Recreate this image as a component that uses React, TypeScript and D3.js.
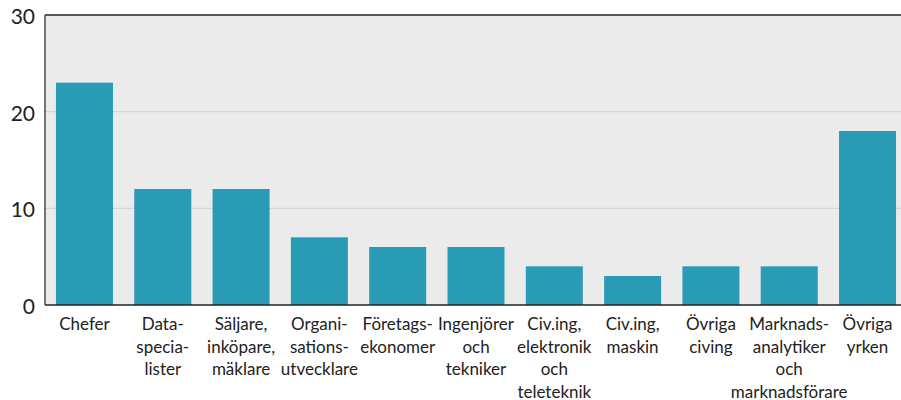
import React from "react";
import * as d3 from "d3";

const categories: string[][] = [
  ["Chefer"],
  ["Data-", "specia-", "lister"],
  ["Säljare,", "inköpare,", "mäklare"],
  ["Organi-", "sations-", "utvecklare"],
  ["Företags-", "ekonomer"],
  ["Ingenjörer", "och", "tekniker"],
  ["Civ.ing,", "elektronik", "och", "teleteknik"],
  ["Civ.ing,", "maskin"],
  ["Övriga", "civing"],
  ["Marknads-", "analytiker", "och", "marknadsförare"],
  ["Övriga", "yrken"],
];
const values: number[] = [23, 12, 12, 7, 6, 6, 4, 3, 4, 4, 18];
const yTicks: number[] = [0, 10, 20, 30];

const W = 901;
const H = 400;
const left = 45;
const top = 15;
const bottom = 305;

export default function App() {
  const keys = categories.map((_, i) => String(i));
  const x = d3
    .scaleBand<string>()
    .domain(keys)
    .range([left, 907])
    .paddingInner(0.272)
    .paddingOuter(0.14);
  const y = d3.scaleLinear().domain([0, 30]).range([bottom, top]);
  const font = "Lato, 'Open Sans', sans-serif";
  return (
    <svg
      width={W}
      height={H}
      style={{ position: "absolute", left: 0, top: 0, background: "#fff" }}
    >
      <rect x={left} y={top} width={W - left} height={bottom - top} fill="#ebebeb" />
      {yTicks
        .filter((t) => t > 0 && t < 30)
        .map((t) => (
          <line key={t} x1={left} x2={W} y1={y(t)} y2={y(t)} stroke="#d6d6d6" strokeWidth={1.2} />
        ))}
      {values.map((v, i) => (
        <rect
          key={i}
          x={x(String(i))!}
          y={y(v)}
          width={x.bandwidth()}
          height={y(0) - y(v)}
          fill="#2a9bb5"
        />
      ))}
      <line x1={left} x2={W} y1={top} y2={top} stroke="#222" strokeWidth={1.5} />
      <line x1={left} x2={left} y1={top} y2={bottom} stroke="#4a4a4a" strokeWidth={1.5} />
      <line x1={left} x2={W} y1={bottom} y2={bottom} stroke="#222" strokeWidth={1.5} />
      {yTicks.map((t) => (
        <text
          key={t}
          x={35}
          y={y(t)}
          dy={9}
          textAnchor="end"
          fontFamily={font}
          fontSize={21}
          fill="#222"
        >
          {t}
        </text>
      ))}
      {categories.map((lines, i) => (
        <text
          key={i}
          x={x(String(i))! + x.bandwidth() / 2}
          y={330}
          textAnchor="middle"
          fontFamily={font}
          fontSize={17}
          fill="#222"
        >
          {lines.map((l, j) => (
            <tspan key={j} x={x(String(i))! + x.bandwidth() / 2} dy={j === 0 ? 0 : 22.5}>
              {l}
            </tspan>
          ))}
        </text>
      ))}
    </svg>
  );
}
